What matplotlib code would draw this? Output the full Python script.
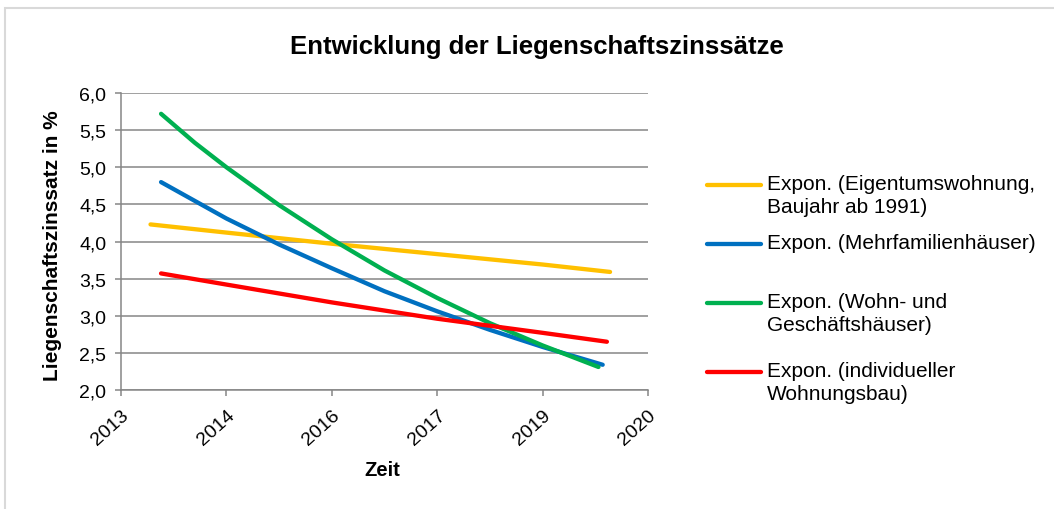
import matplotlib.pyplot as plt
from matplotlib.lines import Line2D
from matplotlib.patches import Rectangle

plt.rcParams['font.family'] = ['Liberation Sans', 'DejaVu Sans']

# Zeitachse (gleichmäßig verteilte Ticks)
jahre = ['2013', '2014', '2016', '2017', '2019', '2020']

x_eigentum = [0.28, 1.0, 2.0, 3.0, 4.0, 4.64]
y_eigentum = [4.23, 4.12, 3.97, 3.83, 3.69, 3.59]

x_mfh = [0.38, 1.0, 1.5, 2.0, 2.5, 3.0, 3.5, 4.0, 4.57]
y_mfh = [4.80, 4.31, 3.96, 3.64, 3.33, 3.06, 2.81, 2.58, 2.34]

x_wgh = [0.38, 0.7, 1.0, 1.5, 2.0, 2.5, 3.0, 3.5, 4.0, 4.53]
y_wgh = [5.72, 5.33, 5.00, 4.49, 4.03, 3.61, 3.24, 2.90, 2.60, 2.31]

x_iwb = [0.38, 1.0, 2.0, 3.0, 4.0, 4.61]
y_iwb = [3.57, 3.42, 3.18, 2.96, 2.77, 2.65]

labels = ['Expon. (Eigentumswohnung,\nBaujahr ab 1991)',
          'Expon. (Mehrfamilienhäuser)',
          'Expon. (Wohn- und\nGeschäftshäuser)',
          'Expon. (individueller\nWohnungsbau)']
farben = ['#FFC000', '#0070C0', '#00B050', '#FF0000']

W, H = 1054, 510
fig = plt.figure(figsize=(W / 100, H / 100), dpi=100)

# Rahmen des Diagrammbereichs
fig.patches.append(Rectangle((5 / W, -0.1), 1.1, 1 - 9 / H + 0.1,
                             transform=fig.transFigure, fill=False,
                             edgecolor='#d9d9d9', linewidth=1.5))

ax = fig.add_axes([121 / W, 1 - 391 / H, 527 / W, 297 / H])

serien = [(x_eigentum, y_eigentum), (x_mfh, y_mfh), (x_wgh, y_wgh), (x_iwb, y_iwb)]
for (xs, ys), farbe in zip(serien, farben):
    ax.plot(xs, ys, color=farbe, linewidth=3.1, solid_capstyle='round',
            solid_joinstyle='round', zorder=3)

ax.set_xlim(0, 5)
ax.set_ylim(2.0, 6.0)
ax.set_yticks([2.0 + 0.5 * i for i in range(9)])
ax.set_yticklabels([f'{2.0 + 0.5 * i:.1f}'.replace('.', ',') for i in range(9)], fontsize=14)
ax.set_xticks(range(len(jahre)))
ax.set_xticklabels(jahre, rotation=42, ha='right', va='top', rotation_mode='anchor', fontsize=14)

ax.grid(axis='y', color='#868686', linewidth=1.1)
ax.set_axisbelow(True)
for seite in ['top', 'right']:
    ax.spines[seite].set_visible(False)
for seite in ['left', 'bottom']:
    ax.spines[seite].set_color('#868686')
    ax.spines[seite].set_linewidth(1.1)
ax.tick_params(axis='both', direction='out', length=4.5, width=1.1, color='#868686')
ax.tick_params(axis='y', pad=6)
ax.tick_params(axis='x', pad=7)

ax.set_ylabel('Liegenschaftszinssatz in %', fontsize=15, fontweight='bold')
ax.yaxis.set_label_coords((62 - 121) / 527, (391 - 246) / 297)
ax.set_xlabel('Zeit', fontsize=14.5, fontweight='bold')
ax.xaxis.set_label_coords((382 - 121) / 527, (391 - 461) / 297)

fig.text(537 / W, 1 - 47 / H, 'Entwicklung der Liegenschaftszinssätze',
         ha='center', va='center', fontsize=18.5, fontweight='bold')

# Legende rechts
leg_y = [186, 245, 304, 373]
for label, farbe, y in zip(labels, farben, leg_y):
    fig.add_artist(Line2D([707 / W, 761 / W], [1 - y / H, 1 - y / H],
                          color=farbe, linewidth=3.1, solid_capstyle='round',
                          transform=fig.transFigure))
    fig.text(767 / W, 1 - (y - 11) / H, label, ha='left', va='top',
             fontsize=15, linespacing=1.26)

fig.savefig('out.png', dpi=100)
